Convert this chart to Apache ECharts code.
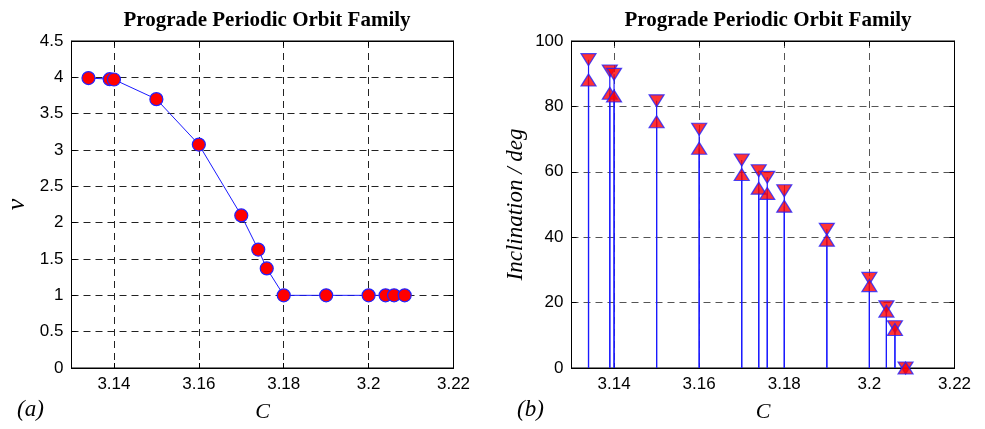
<!DOCTYPE html>
<html><head><meta charset="utf-8">
<script src="https://cdn.jsdelivr.net/npm/echarts@6/dist/echarts.min.js"></script>
<style>html,body{margin:0;padding:0;background:#fff}#c{width:985px;height:429px}</style>
</head><body><div id="c"></div>
<script>
// Jacobi constant C (shared by both panels)
var jacobiC = [3.134, 3.139, 3.140, 3.150, 3.160, 3.170, 3.174, 3.176, 3.180, 3.190, 3.200, 3.204, 3.206, 3.2085];
// Panel (a): nu
var nuValues = [3.99, 3.975, 3.97, 3.70, 3.075, 2.10, 1.63, 1.37, 1.0, 1.0, 1.0, 1.0, 1.0, 1.0];
// Panel (b): inclination range (deg)
var incMax = [94.3, 90.8, 89.8, 81.7, 73.0, 63.6, 60.3, 58.3, 54.2, 42.4, 27.4, 18.7, 12.6, 0];
var incMin = [88.1, 84.0, 83.2, 75.3, 67.2, 59.2, 55.0, 53.4, 49.5, 39.1, 25.2, 17.4, 11.8, 0];
var xTicks = [3.14, 3.16, 3.18, 3.2, 3.22];
var titleText = 'Prograde Periodic Orbit Family';

var chart = echarts.init(document.getElementById('c'), null, {renderer: 'canvas'});
var sans = 'Liberation Sans';
var serif = 'Liberation Serif';
function pairs(xs, ys){ return xs.map(function(x,i){return [x, ys[i]];}); }

function xAx(gi, top){
  return {
    type:'value', gridIndex:gi, min:3.13, max:3.22, interval:0.01,
    position: top ? 'top' : 'bottom',
    axisLine:{show:true, onZero:false, lineStyle:{color:'#000', width:1}},
    axisTick:{show:true, inside:true, length:5, lineStyle:{color:'#000'},
      customValues: xTicks},
    axisLabel:{show:!top, color:'#000', fontFamily:sans, fontSize:17, margin:8,
      customValues: xTicks,
      formatter:function(v){return String(+v.toFixed(2));}},
    splitLine:{show:!top, lineStyle:{color: gi===0 ? '#222' : '#555', type:[7,5], width:1}},
    name: top ? '' : 'C', nameLocation:'middle', nameGap:33,
    nameTextStyle:{fontFamily:serif, fontStyle:'italic', fontSize:22, color:'#000'}
  };
}
function yAx(gi, right, max, interval, name, nameGap, nameSize){
  return {
    type:'value', gridIndex:gi, min:0, max:max, interval:interval,
    position: right ? 'right' : 'left',
    axisLine:{show:true, onZero:false, lineStyle:{color:'#000', width:1}},
    axisTick:{show:true, inside:true, length:5, lineStyle:{color:'#000'}},
    axisLabel:{show:!right, color:'#000', fontFamily:sans, fontSize:17, margin:8},
    splitLine:{show:!right, lineStyle:{color: gi===0 ? '#222' : '#555', type:[7,5], width:1}},
    name: right ? '' : name, nameLocation:'middle', nameGap:nameGap,
    nameTextStyle:{fontFamily:serif, fontStyle:'italic', fontSize:nameSize, color:'#000'}
  };
}

function stemSeries(vals){
  return {
    type:'custom', xAxisIndex:2, yAxisIndex:2, z:2,
    data: pairs(jacobiC, vals),
    renderItem:function(params, api){
      var p0 = api.coord([api.value(0), 0]);
      var p1 = api.coord([api.value(0), api.value(1)]);
      return {type:'line', shape:{x1:p0[0], y1:p0[1], x2:p1[0], y2:p1[1]},
        style:{stroke:'#1a1aff', lineWidth:1.2}};
    }
  };
}

var option = {
  animation:false,
  backgroundColor:'#fff',
  title:[
    {text:titleText, left:262, top:5, textAlign:'center',
     textStyle:{fontFamily:serif, fontWeight:'bold', fontSize:21, color:'#000'}},
    {text:titleText, left:763, top:5, textAlign:'center',
     textStyle:{fontFamily:serif, fontWeight:'bold', fontSize:21, color:'#000'}}
  ],
  grid:[
    {left:71.5, top:41, width:382, height:327, show:true, borderColor:'#000', borderWidth:1, backgroundColor:'#fff'},
    {left:571.5, top:41, width:383, height:327, show:true, borderColor:'#000', borderWidth:1, backgroundColor:'#fff'}
  ],
  xAxis:[ xAx(0,false), xAx(0,true), xAx(1,false), xAx(1,true) ],
  yAxis:[
    yAx(0,false,4.5,0.5,'ν',41,26), yAx(0,true,4.5,0.5,'',0,10),
    yAx(1,false,100,20,'Inclination / deg',44,23), yAx(1,true,100,20,'',0,10)
  ],
  graphic:[
    {type:'text', left:17, top:398, style:{text:'(a)', font:'italic 23px "Liberation Serif"', fill:'#000'}},
    {type:'text', left:517, top:398, style:{text:'(b)', font:'italic 23px "Liberation Serif"', fill:'#000'}}
  ],
  series:[
    {type:'line', xAxisIndex:0, yAxisIndex:0, data:pairs(jacobiC, nuValues),
     symbol:'circle', symbolSize:13, showSymbol:true,
     lineStyle:{color:'#1a1aff', width:1},
     itemStyle:{color:'#ff0000', borderColor:'#2222ff', borderWidth:1.2}},
    stemSeries(incMax),
    stemSeries(incMin),
    {type:'scatter', xAxisIndex:2, yAxisIndex:2, z:3, data:pairs(jacobiC, incMax),
     symbol:'triangle', symbolRotate:180, symbolSize:[15,12],
     itemStyle:{color:'#ff0000', borderColor:'#2222ff', borderWidth:1.2}},
    {type:'scatter', xAxisIndex:2, yAxisIndex:2, z:3, data:pairs(jacobiC, incMin),
     symbol:'triangle', symbolSize:[15,12],
     itemStyle:{color:'#ff0000', borderColor:'#2222ff', borderWidth:1.2}}
  ]
};
chart.setOption(option);
</script></body></html>
